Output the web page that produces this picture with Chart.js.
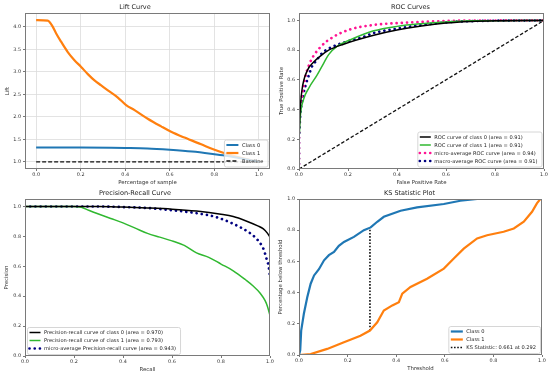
<!DOCTYPE html>
<html>
<head>
<meta charset="utf-8">
<script src="https://cdn.jsdelivr.net/npm/chart.js@4.4.0/dist/chart.umd.min.js"></script>
<style>
  html, body { margin: 0; padding: 0; background: #fff; }
  #wrap { position: relative; width: 554px; height: 374px; overflow: hidden; }
  .cell { position: absolute; width: 277px; height: 187px; }
</style>
</head>
<body>
<div id="wrap">
  <div class="cell" style="left:0;top:0"><canvas id="lift" width="277" height="187"></canvas></div>
  <div class="cell" style="left:277px;top:0"><canvas id="roc" width="277" height="187"></canvas></div>
  <div class="cell" style="left:0;top:187px"><canvas id="pr" width="277" height="187"></canvas></div>
  <div class="cell" style="left:277px;top:187px"><canvas id="ks" width="277" height="187"></canvas></div>
</div>
<script>
// ---- data ----
// lift curve
const liftPct0 = [0, 0.2, 0.4, 0.5, 0.6, 0.7, 0.8, 0.86, 0.93, 1.0];
const liftClass0 = [1.32, 1.32, 1.31, 1.30, 1.27, 1.23, 1.17, 1.13, 1.07, 1.0];
const liftPct1 = [0, 0.052, 0.075, 0.09, 0.112, 0.142, 0.172, 0.202, 0.232, 0.262, 0.292, 0.322, 0.367,
  0.404, 0.442, 0.501, 0.561, 0.606, 0.666, 0.741, 0.801, 0.861, 0.93, 1.0];
const liftClass1 = [4.15, 4.14, 4.0, 3.85, 3.67, 3.44, 3.26, 3.11, 2.95, 2.81, 2.70, 2.59, 2.43,
  2.26, 2.15, 1.96, 1.79, 1.67, 1.54, 1.39, 1.27, 1.17, 1.08, 1.0];
const liftBaseX = [0, 1];
const liftBaseY = [1, 1];

// roc curves
const rocFpr0 = [0, 0, 0.004, 0.012, 0.033, 0.06, 0.087, 0.121, 0.182, 0.305, 0.4, 0.5, 0.6, 0.7, 0.8, 1.0];
const rocTpr0 = [0, 0.25, 0.38, 0.53, 0.66, 0.72, 0.76, 0.80, 0.84, 0.90, 0.935, 0.962, 0.982, 0.993, 0.998, 1.0];
const rocFpr1 = [0, 0, 0.005, 0.019, 0.04, 0.073, 0.10, 0.121, 0.155, 0.21, 0.305, 0.4, 0.5, 0.6, 0.7, 1.0];
const rocTpr1 = [0, 0.2, 0.35, 0.47, 0.545, 0.63, 0.71, 0.77, 0.825, 0.87, 0.93, 0.96, 0.978, 0.99, 0.997, 1.0];
const rocFprMicro = [0, 0, 0.003, 0.012, 0.026, 0.046, 0.087, 0.141, 0.21, 0.305, 0.4, 0.5, 0.6, 0.7, 1.0];
const rocTprMicro = [0, 0.3, 0.40, 0.49, 0.62, 0.72, 0.82, 0.89, 0.94, 0.97, 0.982, 0.99, 0.996, 0.999, 1.0];
const rocFprMacro = [0, 0, 0.005, 0.019, 0.03, 0.04, 0.053, 0.071, 0.094, 0.121, 0.162, 0.21, 0.264, 0.305, 0.4, 0.5, 0.6, 0.7, 1.0];
const rocTprMacro = [0, 0.22, 0.36, 0.51, 0.58, 0.63, 0.69, 0.73, 0.78, 0.81, 0.84, 0.865, 0.89, 0.915, 0.945, 0.97, 0.987, 0.995, 1.0];
const rocChanceX = [0, 1];
const rocChanceY = [0, 1];

// precision-recall
const prRecall0 = [0, 0.3, 0.4, 0.5, 0.6, 0.7, 0.8, 0.85, 0.9, 0.95, 0.973, 0.99, 1.0];
const prPrecision0 = [1.0, 1.0, 0.996, 0.99, 0.982, 0.969, 0.948, 0.933, 0.905, 0.87, 0.85, 0.82, 0.795];
const prRecall1 = [0, 0.2, 0.23, 0.26, 0.3, 0.35, 0.4, 0.45, 0.5, 0.55, 0.6, 0.65, 0.7, 0.75, 0.8,
  0.85, 0.9, 0.93, 0.96, 0.98, 0.99, 1.0];
const prPrecision1 = [1.0, 1.0, 0.995, 0.975, 0.95, 0.92, 0.89, 0.855, 0.82, 0.795, 0.77, 0.74, 0.69, 0.66, 0.615,
  0.57, 0.51, 0.47, 0.42, 0.37, 0.33, 0.27];
const prRecallMicro = [0, 0.3, 0.4, 0.5, 0.6, 0.7, 0.78, 0.85, 0.92, 0.95, 0.973, 0.986, 0.995, 1.0];
const prPrecisionMicro = [1.0, 1.0, 0.996, 0.99, 0.975, 0.955, 0.929, 0.884, 0.82, 0.775, 0.717, 0.65, 0.595, 0.53];

// ks statistic
const ksThresh0 = [0, 0.005, 0.009, 0.02, 0.034, 0.048, 0.062, 0.082, 0.103, 0.123, 0.144, 0.164, 0.185,
  0.226, 0.267, 0.295, 0.322, 0.349, 0.418, 0.486, 0.596, 0.664, 0.733, 1.0];
const ksPct0 = [0, 0.03, 0.157, 0.264, 0.37, 0.457, 0.51, 0.55, 0.607, 0.64, 0.66, 0.70, 0.725,
  0.757, 0.80, 0.818, 0.854, 0.886, 0.925, 0.946, 0.968, 0.989, 1.0, 1.0];
const ksThresh1 = [0, 0.048, 0.116, 0.185, 0.253, 0.292, 0.322, 0.349, 0.384, 0.411, 0.425, 0.459, 0.527,
  0.596, 0.637, 0.678, 0.733, 0.774, 0.842, 0.884, 0.925, 0.959, 0.979, 0.993, 1.0];
const ksPct1 = [0, 0.006, 0.039, 0.082, 0.124, 0.157, 0.21, 0.285, 0.318, 0.339, 0.393, 0.436, 0.489,
  0.554, 0.618, 0.682, 0.747, 0.768, 0.79, 0.811, 0.854, 0.918, 0.972, 1.0, 1.0];
const ksStatAt = 0.292;
const ksStatLow = 0.157;
const ksStatHigh = 0.818;

// ---- helpers ----
function pts(xs, ys) {
  return xs.map((x, i) => ({ x: x, y: ys[i] }));
}

Chart.defaults.font.family = '"DejaVu Sans", sans-serif';
Chart.defaults.color = '#333';
Chart.defaults.animation = false;

const FONT = '"DejaVu Sans", sans-serif';

// frame round the plot area and a legend drawn inside it, like matplotlib
const boxLegend = {
  id: 'boxLegend',
  afterDatasetsDraw(chart, args, opts) {
    const ctx = chart.ctx;
    const a = chart.chartArea;
    ctx.save();
    ctx.strokeStyle = '#7a7a7a';
    ctx.lineWidth = 1;
    ctx.strokeRect(Math.round(a.left) + 0.5, Math.round(a.top) + 0.5,
      Math.round(a.right - a.left) - 1, Math.round(a.bottom - a.top) - 1);

    const items = chart.data.datasets.filter(d => d.label);
    ctx.font = opts.size + 'px ' + FONT;
    const pad = 1.5, handle = opts.handle, gap = 3.5, rowH = opts.rowH;
    const textW = Math.max(...items.map(d => ctx.measureText(d.label).width));
    const w = pad + 1 + handle + gap + textW + 4;
    const h = pad * 2 + rowH * items.length;
    const x = opts.corner === 'bl' ? a.left + opts.margin : a.right - opts.margin - w;
    const y = a.bottom - opts.margin - h;

    ctx.beginPath();
    ctx.roundRect(x + 0.5, y + 0.5, w, h, 2);
    ctx.fillStyle = 'rgba(255,255,255,0.8)';
    ctx.fill();
    ctx.strokeStyle = '#d6d6d6';
    ctx.stroke();

    items.forEach((d, i) => {
      const cy = y + pad + rowH * (i + 0.5);
      ctx.strokeStyle = d.borderColor;
      ctx.lineWidth = d.borderWidth;
      ctx.lineCap = d.borderCapStyle || 'butt';
      ctx.setLineDash(d.borderDash || []);
      ctx.beginPath();
      ctx.moveTo(x + pad + 1, cy);
      ctx.lineTo(x + pad + 1 + handle, cy);
      ctx.stroke();
      ctx.setLineDash([]);
      ctx.fillStyle = '#222';
      ctx.textBaseline = 'middle';
      ctx.textAlign = 'left';
      ctx.fillText(d.label, x + pad + 1 + handle + gap, cy + 0.3);
    });
    ctx.restore();
  }
};

function line(label, data, color, width, extra) {
  return Object.assign({
    label: label,
    data: data,
    borderColor: color,
    backgroundColor: color,
    borderWidth: width,
    pointRadius: 0,
    tension: 0,
    fill: false
  }, extra || {});
}

function smooth(label, data, color, width, extra) {
  return line(label, data, color, width, Object.assign({ cubicInterpolationMode: 'monotone' }, extra || {}));
}

function dotted(label, data, color) {
  return smooth(label, data, color, 2.7, { borderDash: [0.01, 5.2], borderCapStyle: 'round' });
}

function axis(o) {
  return {
    type: 'linear',
    min: o.min,
    max: o.max,
    afterFit: s => {
      if (o.width) s.width = o.width;
      if (o.height) s.height = o.height;
    },
    grid: {
      display: true,
      drawOnChartArea: !!o.grid,
      color: '#dcdcdc',
      lineWidth: 0.8,
      tickLength: 2,
      tickColor: '#555',
      tickWidth: 0.8
    },
    border: { display: false },
    ticks: {
      stepSize: o.step,
      includeBounds: false,
      autoSkip: false,
      maxRotation: 0,
      padding: o.width ? 2 : 1,
      font: { size: 4.9 },
      color: '#333',
      callback: v => Number(v).toFixed(1)
    },
    title: {
      display: true,
      text: o.title,
      font: { size: 5.4 },
      color: '#333',
      padding: o.titlePad
    }
  };
}

function makeChart(id, datasets, cfg) {
  return new Chart(document.getElementById(id), {
    type: 'line',
    data: { datasets: datasets },
    options: {
      responsive: false,
      devicePixelRatio: 1,
      layout: { padding: { left: 0, right: cfg.right, top: 0, bottom: 0 } },
      plugins: {
        legend: { display: false },
        tooltip: { enabled: false },
        title: {
          display: true,
          text: cfg.title,
          font: { size: 6.5, weight: 'normal' },
          color: '#222',
          padding: cfg.titlePad
        },
        boxLegend: cfg.legend
      },
      scales: { x: cfg.x, y: cfg.y }
    },
    plugins: [boxLegend]
  });
}

// ---- Lift Curve ----
makeChart('lift', [
  smooth('Class 0', pts(liftPct0, liftClass0), '#1f77b4', 2),
  smooth('Class 1', pts(liftPct1, liftClass1), '#ff7f0e', 2.2),
  line('Baseline', pts(liftBaseX, liftBaseY), '#111', 1.3, { borderDash: [4, 2] })
], {
  title: 'Lift Curve',
  titlePad: { top: 3.8, bottom: 1.4 },
  right: 7,
  x: axis({ min: -0.05, max: 1.05, step: 0.2, height: 18, grid: true, title: 'Percentage of sample', titlePad: { top: 0, bottom: 1.4 } }),
  y: axis({ min: 0.8425, max: 4.3075, step: 0.5, width: 25, grid: true, title: 'Lift', titlePad: { top: 4, bottom: 0 } }),
  legend: { corner: 'br', size: 5.1, rowH: 8, handle: 12, margin: 2.5 }
});

// ---- ROC Curves ----
makeChart('roc', [
  smooth('ROC curve of class 0 (area = 0.91)', pts(rocFpr0, rocTpr0), '#000', 1.5),
  smooth('ROC curve of class 1 (area = 0.91)', pts(rocFpr1, rocTpr1), '#30b830', 1.5),
  dotted('micro-average ROC curve (area = 0.94)', pts(rocFprMicro, rocTprMicro), '#ff1493'),
  dotted('macro-average ROC curve (area = 0.91)', pts(rocFprMacro, rocTprMacro), '#000080'),
  line('', pts(rocChanceX, rocChanceY), '#111', 1.3, { borderDash: [3.5, 2] })
], {
  title: 'ROC Curves',
  titlePad: { top: 3.4, bottom: 1.8 },
  right: 10,
  x: axis({ min: 0, max: 1, step: 0.2, height: 18, title: 'False Positive Rate', titlePad: { top: 0, bottom: 1 } }),
  y: axis({ min: 0, max: 1.05, step: 0.2, width: 22, title: 'True Positive Rate', titlePad: { top: 1.7, bottom: 0 } }),
  legend: { corner: 'br', size: 5.1, rowH: 8, handle: 11, margin: 2.5 }
});

// ---- Precision-Recall Curve ----
makeChart('pr', [
  smooth('Precision-recall curve of class 0 (area = 0.970)', pts(prRecall0, prPrecision0), '#000', 1.5),
  smooth('Precision-recall curve of class 1 (area = 0.793)', pts(prRecall1, prPrecision1), '#30b830', 1.5),
  dotted('micro-average Precision-recall curve (area = 0.943)', pts(prRecallMicro, prPrecisionMicro), '#000080')
], {
  title: 'Precision-Recall Curve',
  titlePad: { top: 2.8, bottom: 1.4 },
  right: 7,
  x: axis({ min: 0, max: 1, step: 0.2, height: 18, title: 'Recall', titlePad: { top: 0, bottom: 1 } }),
  y: axis({ min: 0, max: 1.05, step: 0.2, width: 25, title: 'Precision', titlePad: { top: 3.4, bottom: 0 } }),
  legend: { corner: 'bl', size: 5.1, rowH: 8, handle: 11, margin: 2 }
});

// ---- KS Statistic Plot ----
makeChart('ks', [
  line('Class 0', pts(ksThresh0, ksPct0), '#1f77b4', 2.2),
  line('Class 1', pts(ksThresh1, ksPct1), '#ff7f0e', 2.2),
  line('KS Statistic: ' + (ksStatHigh - ksStatLow).toFixed(3) + ' at ' + ksStatAt.toFixed(3),
    pts([ksStatAt, ksStatAt], [ksStatLow, ksStatHigh]), '#111', 1.6, { borderDash: [1.6, 1.6] })
], {
  title: 'KS Statistic Plot',
  titlePad: { top: 2.1, bottom: 2.1 },
  right: 12,
  x: axis({ min: 0, max: 1, step: 0.2, height: 19, title: 'Threshold', titlePad: { top: 0, bottom: 2 } }),
  y: axis({ min: 0, max: 1, step: 0.2, width: 22, title: 'Percentage below threshold', titlePad: { top: 0.8, bottom: 0 } }),
  legend: { corner: 'br', size: 5.1, rowH: 8, handle: 12, margin: 2 }
});
</script>
</body>
</html>
